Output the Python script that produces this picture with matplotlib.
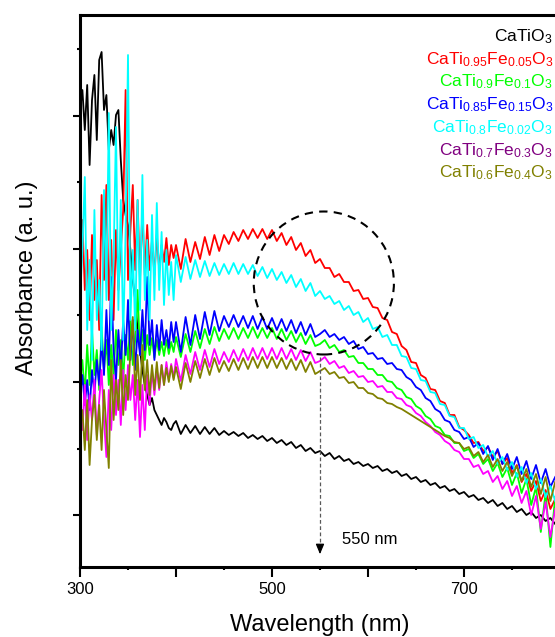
import numpy as np
import matplotlib
matplotlib.use('Agg')
import matplotlib.pyplot as plt
from matplotlib.patches import Ellipse

plt.rcParams['font.family'] = ['Liberation Sans', 'DejaVu Sans']
plt.rcParams['mathtext.default'] = 'regular'

# wavelength grid (nm): 2.5 nm steps in the noisy UV part, 5 nm after
wl = np.concatenate([np.arange(300, 400, 2.5), np.arange(400, 800, 5)])

# absorbance (a. u.)
a_ctio = [4.57, 4.77, 4.37, 4.82, 4.02, 4.67, 4.92, 4.27, 5.07, 5.15,
          4.57, 4.72, 4.17, 4.37, 4.22, 4.52, 4.57, 4.07, 3.67, 3.52,
          3.42, 3.17, 2.87, 2.67, 2.37, 2.17, 1.97, 1.82, 1.72, 1.62,
          1.69, 1.57, 1.52, 1.47, 1.42, 1.49, 1.45, 1.39, 1.37, 1.43,
          1.46, 1.33, 1.42, 1.34, 1.41, 1.33, 1.40, 1.33, 1.39, 1.32,
          1.36, 1.32, 1.35, 1.31, 1.34, 1.29, 1.32, 1.28, 1.31, 1.26,
          1.29, 1.24, 1.27, 1.22, 1.25, 1.19, 1.22, 1.16, 1.19, 1.14,
          1.16, 1.11, 1.14, 1.08, 1.11, 1.06, 1.08, 1.03, 1.05, 1.01,
          1.03, 0.99, 1.01, 0.96, 0.98, 0.94, 0.96, 0.91, 0.93, 0.88,
          0.90, 0.85, 0.87, 0.82, 0.84, 0.79, 0.81, 0.76, 0.78, 0.73,
          0.75, 0.70, 0.72, 0.67, 0.69, 0.64, 0.67, 0.61, 0.64, 0.58,
          0.61, 0.55, 0.58, 0.52, 0.55, 0.49, 0.52, 0.46, 0.49, 0.43]
a_fe005 = [2.67, 3.47, 2.77, 3.17, 2.47, 3.32, 2.67, 3.07, 2.37, 3.72,
           2.87, 3.82, 2.67, 3.27, 2.47, 3.37, 2.77, 3.17, 3.57, 4.77,
           2.87, 3.37, 3.82, 2.97, 3.67, 2.87, 3.57, 2.92, 3.42, 2.97,
           3.27, 2.92, 3.32, 2.97, 3.22, 3.05, 3.29, 3.02, 3.22, 3.09,
           3.22, 2.98, 3.28, 3.05, 3.25, 3.08, 3.30, 3.12, 3.32, 3.16,
           3.32, 3.23, 3.35, 3.26, 3.37, 3.28, 3.38, 3.29, 3.38, 3.28,
           3.37, 3.26, 3.34, 3.22, 3.30, 3.17, 3.24, 3.11, 3.17, 3.04,
           3.08, 2.99, 2.99, 2.90, 2.93, 2.85, 2.85, 2.76, 2.77, 2.68,
           2.69, 2.60, 2.59, 2.49, 2.47, 2.35, 2.33, 2.21, 2.17, 2.05,
           2.04, 1.92, 1.89, 1.78, 1.77, 1.66, 1.64, 1.52, 1.52, 1.40,
           1.37, 1.32, 1.24, 1.25, 1.16, 1.20, 1.10, 1.16, 1.03, 1.09,
           0.94, 1.02, 0.85, 0.93, 0.76, 0.86, 0.66, 0.77, 0.58, 0.68]
a_fe01 = [1.87, 2.07, 1.72, 2.22, 1.82, 2.37, 1.92, 2.17, 1.77, 2.40,
          1.97, 2.27, 1.82, 2.22, 1.92, 2.37, 2.02, 2.27, 1.87, 2.32,
          2.07, 2.47, 2.02, 2.27, 2.77, 2.12, 2.37, 2.07, 2.32, 2.12,
          2.29, 2.09, 2.27, 2.12, 2.25, 2.11, 2.27, 2.13, 2.25, 2.15,
          2.30, 2.10, 2.33, 2.15, 2.36, 2.19, 2.38, 2.23, 2.40, 2.26,
          2.38, 2.28, 2.39, 2.28, 2.39, 2.29, 2.40, 2.29, 2.39, 2.29,
          2.39, 2.28, 2.38, 2.27, 2.36, 2.25, 2.34, 2.23, 2.32, 2.21,
          2.23, 2.27, 2.19, 2.22, 2.15, 2.17, 2.10, 2.11, 2.04, 2.04,
          1.98, 1.98, 1.92, 1.92, 1.86, 1.85, 1.79, 1.77, 1.70, 1.68,
          1.61, 1.58, 1.51, 1.48, 1.41, 1.39, 1.32, 1.31, 1.24, 1.24,
          1.16, 1.18, 1.09, 1.13, 1.03, 1.08, 0.96, 1.04, 0.90, 0.99,
          0.82, 0.94, 0.74, 0.88, 0.62, 0.80, 0.35, 0.74, 0.20, 0.70]
a_fe015 = [1.72, 1.92, 1.62, 1.87, 1.57, 1.97, 1.72, 2.07, 1.82, 2.27,
           1.92, 2.57, 2.02, 2.90, 2.17, 1.87, 2.37, 1.97, 2.47, 2.12,
           2.67, 2.07, 2.47, 1.97, 2.37, 2.12, 2.57, 2.17, 2.90, 2.22,
           2.47, 2.07, 2.42, 2.17, 2.47, 2.22, 2.37, 2.19, 2.45, 2.25,
           2.45, 2.15, 2.50, 2.22, 2.52, 2.28, 2.55, 2.32, 2.56, 2.36,
           2.51, 2.40, 2.52, 2.40, 2.51, 2.39, 2.51, 2.38, 2.50, 2.38,
           2.49, 2.37, 2.48, 2.36, 2.47, 2.34, 2.45, 2.32, 2.43, 2.30,
           2.33, 2.37, 2.30, 2.33, 2.27, 2.30, 2.23, 2.26, 2.18, 2.20,
           2.13, 2.14, 2.08, 2.09, 2.03, 2.04, 1.98, 1.97, 1.90, 1.87,
           1.80, 1.77, 1.69, 1.66, 1.58, 1.55, 1.47, 1.45, 1.37, 1.35,
           1.28, 1.30, 1.20, 1.24, 1.13, 1.21, 1.07, 1.18, 1.03, 1.13,
           0.98, 1.10, 0.93, 1.06, 0.88, 1.02, 0.84, 0.98, 0.80, 0.90]
a_fe02 = [2.67, 3.17, 3.90, 2.37, 3.07, 2.07, 3.57, 2.47, 2.87, 2.17,
          3.77, 2.67, 4.54, 2.37, 3.07, 4.40, 2.57, 3.67, 2.27, 3.37,
          5.12, 2.47, 3.17, 2.37, 3.67, 2.57, 3.92, 2.67, 3.27, 2.47,
          3.52, 2.67, 3.64, 2.77, 3.35, 2.62, 3.17, 2.72, 3.05, 2.67,
          3.12, 2.85, 3.10, 2.88, 3.07, 2.90, 3.06, 2.91, 3.04, 2.92,
          3.03, 2.93, 3.04, 2.93, 3.03, 2.93, 3.02, 2.91, 3.00, 2.89,
          2.98, 2.87, 2.95, 2.84, 2.92, 2.80, 2.88, 2.76, 2.84, 2.71,
          2.76, 2.68, 2.71, 2.63, 2.66, 2.57, 2.61, 2.52, 2.55, 2.45,
          2.49, 2.38, 2.40, 2.30, 2.32, 2.22, 2.22, 2.11, 2.10, 1.99,
          1.98, 1.87, 1.86, 1.75, 1.74, 1.63, 1.62, 1.51, 1.50, 1.39,
          1.39, 1.28, 1.30, 1.19, 1.22, 1.10, 1.16, 1.03, 1.10, 0.97,
          1.05, 0.90, 1.00, 0.84, 0.94, 0.78, 0.88, 0.70, 0.81, 0.66]
a_fe03 = [1.67, 1.37, 1.82, 1.27, 1.72, 1.47, 1.87, 1.32, 1.67, 1.97,
          1.47, 1.10, 1.77, 1.37, 1.92, 1.52, 1.87, 1.42, 1.97, 1.57,
          2.02, 1.67, 1.92, 1.47, 1.87, 1.30, 1.82, 1.37, 1.92, 1.62,
          1.97, 1.72, 1.99, 1.77, 2.02, 1.82, 2.05, 1.87, 2.03, 1.89,
          2.08, 1.86, 2.12, 1.93, 2.15, 1.97, 2.17, 2.00, 2.18, 2.03,
          2.15, 2.05, 2.17, 2.06, 2.18, 2.07, 2.19, 2.08, 2.19, 2.08,
          2.19, 2.08, 2.19, 2.08, 2.18, 2.07, 2.17, 2.06, 2.15, 2.04,
          2.06, 2.10, 2.03, 2.06, 1.99, 2.01, 1.94, 1.96, 1.90, 1.91,
          1.85, 1.86, 1.80, 1.81, 1.75, 1.75, 1.69, 1.68, 1.62, 1.60,
          1.54, 1.51, 1.45, 1.41, 1.35, 1.32, 1.26, 1.23, 1.17, 1.15,
          1.08, 1.08, 1.00, 1.02, 0.93, 0.96, 0.85, 0.91, 0.78, 0.86,
          0.71, 0.81, 0.64, 0.76, 0.52, 0.71, 0.38, 0.65, 0.30, 0.58]
a_fe04 = [1.37, 1.57, 1.17, 1.67, 1.02, 1.47, 1.72, 1.27, 1.62, 1.17,
          1.77, 1.37, 0.99, 2.07, 1.47, 1.87, 1.57, 2.07, 1.52, 1.92,
          1.67, 2.17, 2.50, 1.72, 2.12, 1.67, 2.22, 1.77, 2.07, 1.72,
          2.02, 1.77, 2.05, 1.79, 2.02, 1.82, 1.99, 1.85, 2.01, 1.87,
          2.00, 1.78, 2.04, 1.85, 2.06, 1.89, 2.08, 1.92, 2.09, 1.95,
          2.06, 1.96, 2.08, 1.97, 2.09, 1.98, 2.10, 1.99, 2.10, 1.99,
          2.10, 1.99, 2.09, 1.98, 2.08, 1.97, 2.07, 1.95, 2.05, 1.93,
          1.96, 1.99, 1.93, 1.95, 1.89, 1.90, 1.84, 1.85, 1.79, 1.79,
          1.74, 1.73, 1.69, 1.68, 1.64, 1.63, 1.60, 1.58, 1.55, 1.52,
          1.49, 1.46, 1.43, 1.40, 1.37, 1.34, 1.31, 1.29, 1.25, 1.24,
          1.18, 1.20, 1.11, 1.15, 1.05, 1.12, 1.00, 1.08, 0.96, 1.05,
          0.91, 1.01, 0.86, 0.98, 0.80, 0.93, 0.73, 0.90, 0.66, 0.85]

series = [a_ctio, a_fe005, a_fe01, a_fe015, a_fe02, a_fe03, a_fe04]
labels = [r'$\mathregular{CaTiO_3}$',
          r'$\mathregular{CaTi_{0.95}Fe_{0.05}O_3}$',
          r'$\mathregular{CaTi_{0.9}Fe_{0.1}O_3}$',
          r'$\mathregular{CaTi_{0.85}Fe_{0.15}O_3}$',
          r'$\mathregular{CaTi_{0.8}Fe_{0.02}O_3}$',
          r'$\mathregular{CaTi_{0.7}Fe_{0.3}O_3}$',
          r'$\mathregular{CaTi_{0.6}Fe_{0.4}O_3}$']
line_colors = ['black', 'red', '#00ff00', 'blue', 'cyan', 'magenta', '#808000']
text_colors = ['black', 'red', '#00ff00', 'blue', 'cyan', 'purple', '#808000']

W, H = 555, 637
fig = plt.figure(figsize=(W / 100, H / 100), dpi=100)
# right edge of the axes falls just outside the picture, as in the original
ax = fig.add_axes([80 / W, 70 / H, 480 / W, 552 / H])

for y, c in zip(series, line_colors):
    ax.plot(wl, y, color=c, lw=1.3)

ax.set_xlim(300, 800)
ax.set_ylim(0, 5.52)

ax.set_xticks(np.arange(300, 801, 100))
ax.set_xticklabels(['300', '', '500', '', '700', ''])
ax.set_xticks(np.arange(350, 800, 100), minor=True)
ax.set_yticks(np.arange(0.52, 5.5, 1.33))
ax.set_yticks(np.arange(1.185, 5.5, 1.33), minor=True)
ax.set_yticklabels([])

for s in ax.spines.values():
    s.set_linewidth(2.2)
ax.tick_params(axis='x', which='major', length=7, width=1.5, labelsize=12, pad=4)
ax.tick_params(axis='x', which='minor', length=2.5, width=1.5)
ax.tick_params(axis='y', which='major', length=5, width=1.5)
ax.tick_params(axis='y', which='minor', length=2.5, width=1.5)

ax.set_xlabel('Wavelength (nm)', fontsize=17, labelpad=12)
fig.text(27 / W, 1 - 278 / H, 'Absorbance (a. u.)', fontsize=17,
         rotation=90, ha='center', va='center')

# dashed circle round the shoulder and the 550 nm marker
ax.add_patch(Ellipse((554, 2.84), 146, 1.43, fill=False, ec='black',
                     lw=1.5, ls=(0, (4, 3)), zorder=5))
ax.plot([550, 550], [2.10, 0.20], color='0.35', lw=0.9, ls=(0, (3, 2)))
ax.annotate('', xy=(550, 0.10), xytext=(550, 0.22),
            arrowprops=dict(arrowstyle='-|>,head_width=0.25,head_length=0.6',
                            color='black', lw=0.9))
ax.text(573, 0.27, '550 nm', fontsize=12, ha='left', va='center')

# legend as coloured text, right aligned
for k, (lab, c) in enumerate(zip(labels, text_colors)):
    fig.text(553 / W, 1 - (41 + 22.8 * k) / H, lab, color=c, fontsize=12.5,
             ha='right', va='baseline')

fig.savefig('out.png', dpi=100)
